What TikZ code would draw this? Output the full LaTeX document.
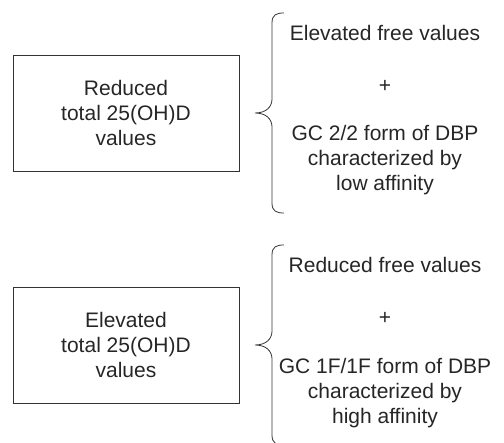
\documentclass[tikz,border=0pt]{standalone}
\usepackage{fontspec}
\setmainfont{Liberation Sans}
\begin{document}
\begin{tikzpicture}[x=1pt,y=1pt,
  box/.style={draw=black!80, line width=0.8pt, minimum width=226pt, minimum height=116pt,
    inner sep=0pt, align=center, font=\fontsize{21}{25}\selectfont, text=black!85},
  lbl/.style={align=center, font=\fontsize{21}{25}\selectfont, text=black!85, inner sep=0pt},
  curlybrace/.pic={
    \draw[draw=black!80, line width=0.8pt]
      (29,100) .. controls (21,100) and (17,98) .. (17,90) -- (17,14)
      .. controls (17,6) and (11,0) .. (0,0)
      .. controls (11,0) and (17,-6) .. (17,-14) -- (17,-90)
      .. controls (17,-98) and (21,-100) .. (29,-100);
  }]
\useasboundingbox (0,0) rectangle (504,443);
\clip (0,0) rectangle (504,443);

% top group
\node[box] (boxA) at (126,330) {Reduced\\total 25(OH)D\\values};
\coordinate (tipA) at (255,330);
\pic at (tipA) {curlybrace};
\node[lbl] (freeA) at (385,410) {Elevated free values};
\node[lbl] (plusA) at (385,357) {+};
\node[lbl] (gcA) at (385,283) {GC 2/2 form of DBP\\characterized by\\low affinity};

% bottom group
\node[box] (boxB) at (126,98) {Elevated\\total 25(OH)D\\values};
\coordinate (tipB) at (255,98);
\pic at (tipB) {curlybrace};
\node[lbl] (freeB) at (385,178) {Reduced free values};
\node[lbl] (plusB) at (385,125) {+};
\node[lbl] (gcB) at (385,50) {GC 1F/1F form of DBP\\characterized by\\high affinity};
\end{tikzpicture}
\end{document}
